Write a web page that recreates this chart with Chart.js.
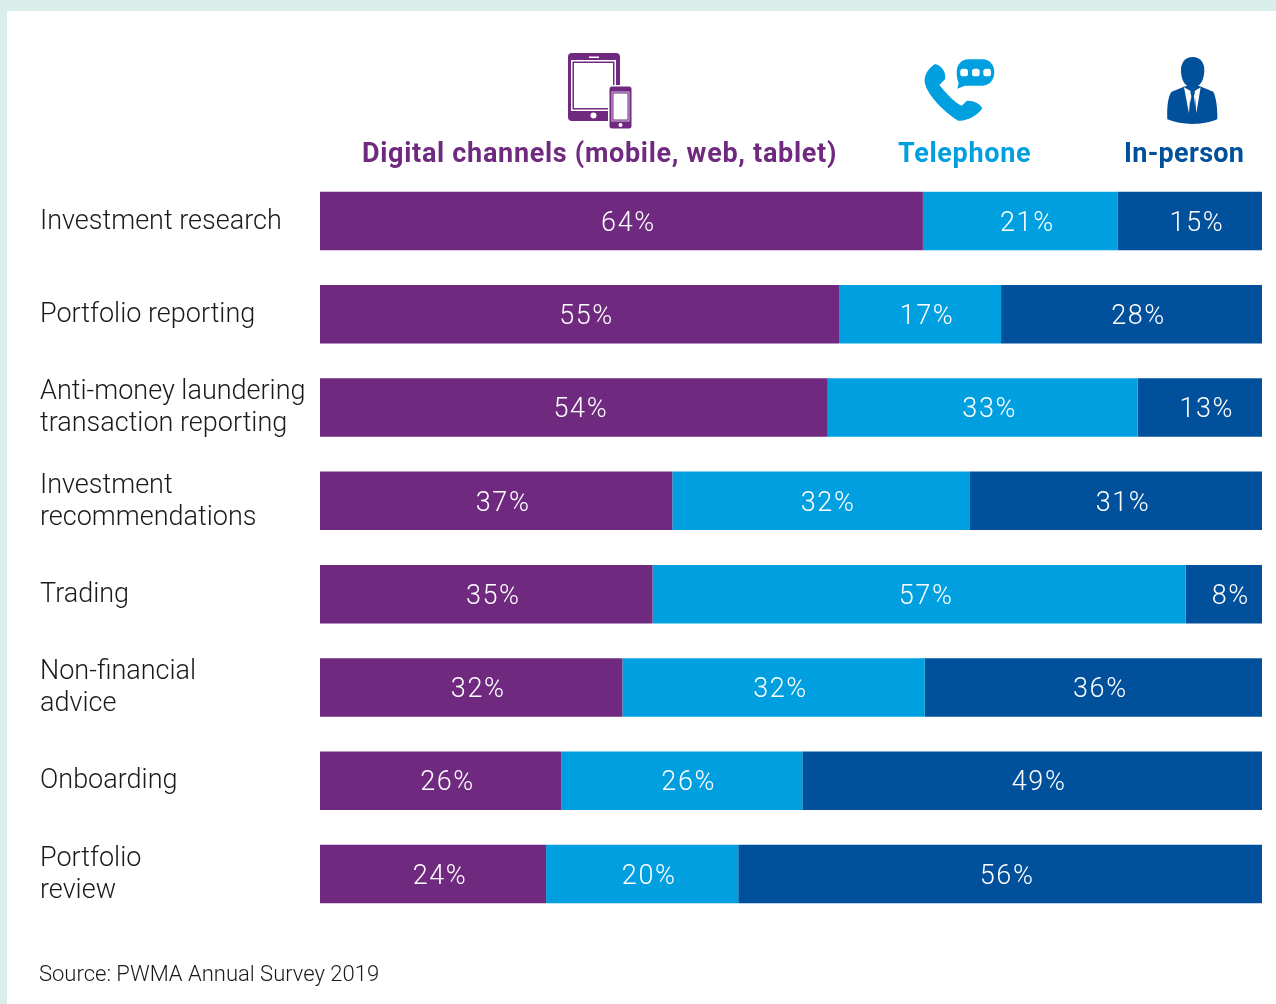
<!DOCTYPE html>
<html><head><meta charset="utf-8">
<script src="https://cdn.jsdelivr.net/npm/chart.js@4"></script>
<style>
html,body{margin:0;padding:0;background:#fff}
#page{position:relative;width:1276px;height:1004px;overflow:hidden;background:#fff;font-family:Roboto,sans-serif}
.frameT{position:absolute;left:0;top:0;width:1276px;height:11px;background:#d9edeb}
.frameL{position:absolute;left:0;top:0;width:7px;height:1004px;background:#d9edeb}
canvas{position:absolute;left:0;top:0}
.hdr{position:absolute;top:136px;font-size:27px;font-weight:700;line-height:34px;white-space:nowrap;letter-spacing:.7px}
.src{position:absolute;left:39px;top:961px;font-size:22px;line-height:26px;font-weight:300;color:#1a1a1a;white-space:nowrap}
svg{position:absolute;left:0;top:0}
</style></head><body>
<div id="page">
<div class="frameT"></div><div class="frameL"></div>
<canvas id="c" width="1276" height="1004"></canvas>
<svg width="1276" height="140" viewBox="0 0 1276 140">
  <g fill="#6f2a80">
    <rect x="568" y="53" width="52" height="68" rx="4"/>
    <rect x="571" y="60" width="45" height="51" fill="#fff"/>
    <rect x="572.5" y="61.5" width="42" height="48" fill="#6f2a80"/>
    <rect x="574" y="63" width="39" height="45" fill="#fff"/>
    <rect x="589" y="56.5" width="10" height="1.5" fill="#fff"/>
    <circle cx="593.5" cy="115.5" r="3" fill="#fff"/>
    <rect x="608" y="85" width="25" height="45" rx="3" fill="#fff"/>
    <rect x="609.5" y="86.5" width="22" height="42" rx="2.5"/>
    <rect x="611.5" y="91.5" width="18" height="30" fill="#d9bfe0"/>
    <rect x="612.5" y="92.5" width="16" height="28" fill="#6f2a80"/>
    <rect x="613.5" y="93.5" width="14" height="26" fill="#fff"/>
    <circle cx="620.5" cy="125" r="2" fill="#fff"/>
  </g>
  <g transform="translate(900 40) scale(.3333)">
    <path fill="#009fdf" d="M105 72C85 85 72 105 74 125C78 160 130 215 175 242C200 245 235 225 247 205C240 190 215 180 200 183L185 197C165 190 130 150 118 135L135 118C140 100 125 75 105 72Z"/>
    <path fill="#009fdf" d="M205 58H248C268 58 283 74 283 97C283 120 268 137 248 137H195L172 146L176 128C172 120 170 110 170 97C170 74 185 58 205 58Z"/>
    <rect x="181" y="86" width="23" height="23" rx="8" fill="#fff"/>
    <rect x="216" y="86" width="23" height="23" rx="8" fill="#fff"/>
    <rect x="250" y="86" width="23" height="23" rx="8" fill="#fff"/>
  </g>
  <g transform="translate(900 40) scale(.3333)">
    <path fill="#00509b" d="M878 51C855 51 843 68 843 90C843 112 850 130 862 138H894C906 130 913 112 913 90C913 68 901 51 878 51Z"/>
    <path fill="#00509b" d="M802 238C800 200 805 165 815 155L852 140L858 138H898L940 155C948 170 953 205 952 238C925 248 905 252 877 252C850 252 825 247 802 238Z"/>
    <path fill="#fff" d="M852 142L872 153L867 220ZM902 142L884 153L889 220Z" />
    <path fill="#fff" d="M868 158H888L878 224Z"/>
    <path fill="#00509b" d="M871 157H885L882 168L885 212L878 224L871 212L874 168Z"/>
  </g>
</svg>
<div class="hdr" style="left:362px;color:#6f2a80">Digital channels (mobile, web, tablet)</div>
<div class="hdr" style="left:898px;color:#009fdf">Telephone</div>
<div class="hdr" style="left:1124px;color:#00509b;letter-spacing:.3px">In-person</div>
<div class="src">Source: PWMA Annual Survey 2019</div>
</div>
<script>
const categories = [
  "Investment research",
  "Portfolio reporting",
  ["Anti-money laundering","transaction reporting"],
  ["Investment","recommendations"],
  "Trading",
  ["Non-financial","advice"],
  "Onboarding",
  ["Portfolio","review"]
];
const seriesNames = ["Digital channels (mobile, web, tablet)","Telephone","In-person"];
const digital   = [64.0,55.1,53.9,37.4,35.3,32.1,25.6,24.0];
const telephone = [20.7,17.2,32.9,31.6,56.6,32.1,25.6,20.4];
const inPerson  = [15.3,27.7,13.2,31.0,8.1,35.8,48.8,55.6];
const colors = ["#6f2a80","#009fdf","#00509b"];
const raw = [digital,telephone,inPerson];

const valueLabels = {
  id:'valueLabels',
  afterDatasetsDraw(chart){
    const ctx = chart.ctx;
    ctx.save();
    ctx.font = '300 27px Roboto';
    ctx.letterSpacing = '1.6px';
    ctx.fillStyle = '#fff';
    ctx.textAlign = 'center';
    ctx.textBaseline = 'middle';
    chart.data.datasets.forEach((ds,d)=>{
      chart.getDatasetMeta(d).data.forEach((bar,i)=>{
        ctx.fillText(Math.round(raw[d][i])+'%',(bar.base+bar.x)/2+7,bar.y+3);
      });
    });
    ctx.restore();
  }
};

new Chart(document.getElementById('c'),{
  type:'bar',
  data:{labels:categories,datasets:seriesNames.map((n,d)=>({
    label:n,
    data:raw[d],
    backgroundColor:colors[d],
    borderWidth:0,
    barPercentage:0.627,
    categoryPercentage:1
  }))},
  options:{
    indexAxis:'y',
    responsive:false,
    animation:false,
    layout:{padding:{left:40,right:14,top:174.4,bottom:83.4}},
    plugins:{legend:{display:false},tooltip:{enabled:false}},
    scales:{
      x:{stacked:true,min:0,max:100,display:false},
      y:{
        stacked:true,
        grid:{display:false},
        border:{display:false},
        afterFit(s){s.width=280;},
        ticks:{
          autoSkip:false,
          crossAlign:'far',
          color:'#1a1a1a',
          labelOffset:1,
          font:{family:'Roboto',size:27,weight:300,lineHeight:32/27}
        }
      }
    }
  },
  plugins:[valueLabels]
});
</script>
</body></html>
